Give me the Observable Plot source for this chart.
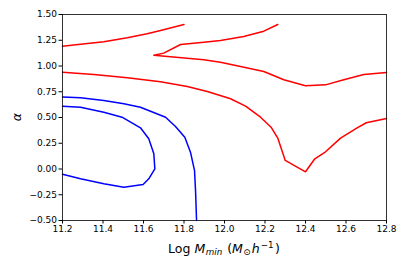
<!DOCTYPE html>
<html>
<head>
<meta charset="utf-8">
<script src="https://cdn.jsdelivr.net/npm/d3@7"></script>
<script src="https://cdn.jsdelivr.net/npm/@observablehq/plot@0.6"></script>
<style>
  html, body { margin: 0; padding: 0; background: #fff; }
  #chart svg { display: block; }
</style>
</head>
<body>
<div id="chart"></div>
<script>
// Contour lines (log Mmin, alpha)
const red1X = [11.2, 11.289, 11.404, 11.52, 11.618, 11.684, 11.80];
const red1Y = [1.192, 1.212, 1.235, 1.274, 1.313, 1.345, 1.403];

const red2X = [12.263, 12.194, 12.095, 11.98, 11.898, 11.783, 11.70, 11.651, 11.733, 11.898, 11.98, 12.079, 12.194, 12.293, 12.40, 12.499, 12.589, 12.688, 12.80];
const red2Y = [1.403, 1.338, 1.286, 1.248, 1.231, 1.209, 1.125, 1.105, 1.089, 1.060, 1.037, 0.995, 0.947, 0.866, 0.808, 0.817, 0.866, 0.917, 0.937];

const red3X = [11.2, 11.355, 11.52, 11.684, 11.816, 11.915, 12.03, 12.104, 12.178, 12.23, 12.263, 12.30, 12.40, 12.446, 12.499, 12.573, 12.655, 12.70, 12.80];
const red3Y = [0.94, 0.917, 0.885, 0.846, 0.80, 0.752, 0.682, 0.61, 0.503, 0.406, 0.30, 0.083, -0.027, 0.099, 0.167, 0.30, 0.40, 0.449, 0.49];

const blue1X = [11.2, 11.289, 11.404, 11.503, 11.585, 11.709, 11.758, 11.804, 11.832, 11.852, 11.857, 11.862];
const blue1Y = [0.70, 0.691, 0.665, 0.633, 0.60, 0.503, 0.413, 0.309, 0.163, -0.015, -0.21, -0.50];

const blue2X = [11.2, 11.289, 11.404, 11.494, 11.585, 11.626, 11.651, 11.656, 11.626, 11.598, 11.503, 11.404, 11.289, 11.2];
const blue2Y = [0.61, 0.60, 0.551, 0.503, 0.40, 0.293, 0.147, 0.002, -0.095, -0.15, -0.177, -0.144, -0.095, -0.05];

const xTicks = [11.2, 11.4, 11.6, 11.8, 12.0, 12.2, 12.4, 12.6, 12.8];
const yTicks = [-0.5, -0.25, 0, 0.25, 0.5, 0.75, 1.0, 1.25, 1.5];

const series = [
  {name: "red1", color: "#ff0000", xs: red1X, ys: red1Y},
  {name: "red2", color: "#ff0000", xs: red2X, ys: red2Y},
  {name: "red3", color: "#ff0000", xs: red3X, ys: red3Y},
  {name: "blue1", color: "#0000ff", xs: blue1X, ys: blue1Y},
  {name: "blue2", color: "#0000ff", xs: blue2X, ys: blue2Y}
];
const rows = series.flatMap(s => s.xs.map((x, i) => ({series: s.name, color: s.color, x, y: s.ys[i]})));

const W = 407, H = 271;
const mL = 62, mR = 21, mT = 14, mB = 51;

const plot = Plot.plot({
  width: W,
  height: H,
  marginLeft: mL,
  marginRight: mR,
  marginTop: mT,
  marginBottom: mB,
  style: {fontFamily: "DejaVu Sans", fontSize: "9px", color: "#000", background: "#fff"},
  x: {domain: [11.2, 12.8], ticks: xTicks, tickFormat: d3.format(".1f"), label: null, tickSize: 3.5, tickPadding: 2},
  y: {domain: [-0.5, 1.5], ticks: yTicks, tickFormat: d3.format(".2f"), label: null, tickSize: 3.5, tickPadding: 2},
  marks: [
    Plot.line(rows, {x: "x", y: "y", z: "series", stroke: "color", strokeWidth: 1.5, curve: "linear"}),
    Plot.frame({stroke: "#000", strokeWidth: 0.8}),
    Plot.axisX({ticks: xTicks, tickFormat: d3.format(".1f"), tickSize: 3.5, tickPadding: 2, label: null, stroke: "#000"}),
    Plot.axisY({ticks: yTicks, tickFormat: d3.format(".2f"), tickSize: 3.5, tickPadding: 2, label: null, stroke: "#000"})
  ]
});

const svg = d3.select(plot);
// X axis label: Log M_min (M_⊙ h^-1)
const xl = svg.append("text")
  .attr("x", (mL + W - mR) / 2)
  .attr("y", H - 18.5)
  .attr("text-anchor", "middle")
  .attr("font-family", "DejaVu Sans")
  .attr("font-size", 12.5)
  .attr("fill", "#000");
xl.append("tspan").text("Log ");
xl.append("tspan").attr("font-style", "italic").text("M");
xl.append("tspan").attr("font-style", "italic").attr("font-size", 8.75).attr("dx", 0.5).attr("dy", 2.5).text("min");
xl.append("tspan").attr("dx", 1).attr("dy", -2.5).text(" (");
xl.append("tspan").attr("font-style", "italic").text("M");
xl.append("tspan").attr("font-size", 8.75).attr("dx", 0.5).attr("dy", 2.5).text("⊙");
xl.append("tspan").attr("font-style", "italic").attr("dx", 1).attr("dy", -2.5).text("h");
xl.append("tspan").attr("font-size", 8.75).attr("dx", 1).attr("dy", -4.5).text("−1");
xl.append("tspan").attr("dx", 1.5).attr("dy", 4.5).text(")");

// Y axis label: alpha
svg.append("text")
  .attr("transform", `translate(21,${(mT + H - mB) / 2}) rotate(-90)`)
  .attr("text-anchor", "middle")
  .attr("font-family", "DejaVu Sans")
  .attr("font-size", 12.5)
  .attr("font-style", "italic")
  .attr("fill", "#000")
  .text("α");

document.getElementById("chart").appendChild(plot);
</script>
</body>
</html>
